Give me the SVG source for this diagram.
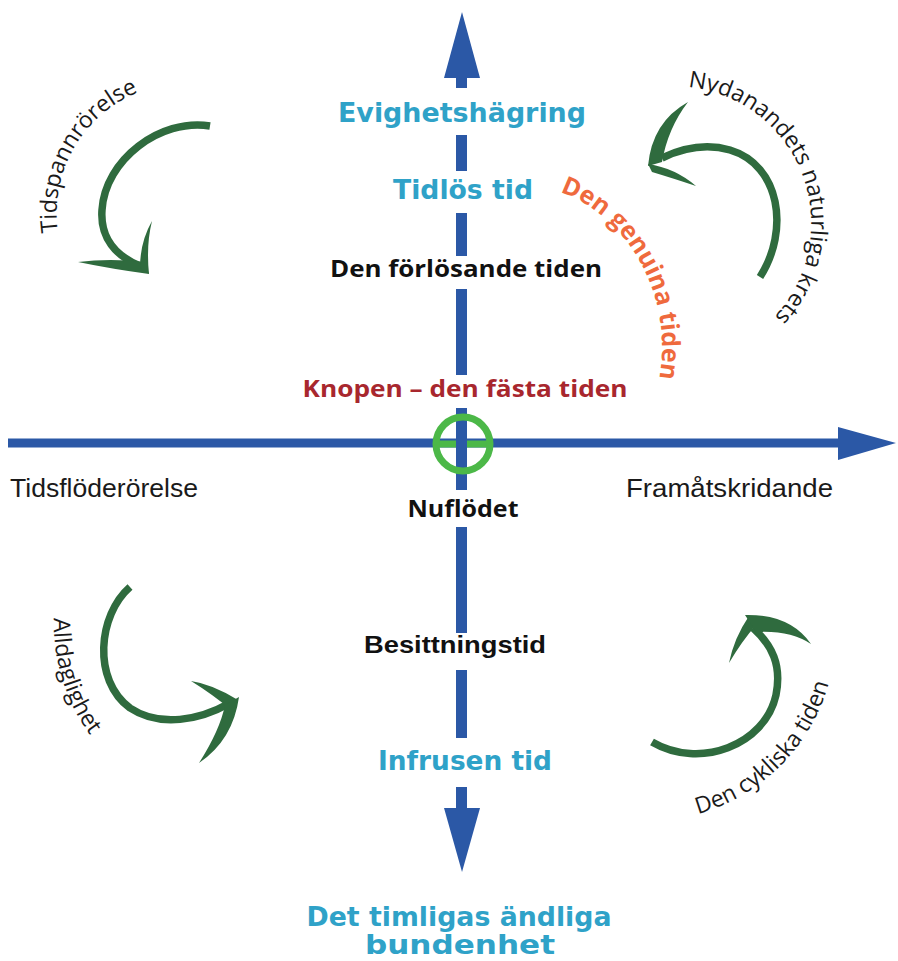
<svg xmlns="http://www.w3.org/2000/svg" width="898" height="961" viewBox="0 0 898 961">
<style>
.axis{fill:#2b58a6}
.garc{fill:none;stroke:#2f6b3e;stroke-width:7.5}
.ghead{fill:#2f6b3e}
.teal{font-family:"DejaVu Sans",Verdana,sans-serif;font-weight:bold;font-size:26px;fill:#2fa2c8;text-anchor:middle}
.blk{font-family:"Open Sans","Liberation Sans",sans-serif;font-weight:bold;font-size:24px;fill:#111;text-anchor:middle}
.blk2{font-family:"Liberation Sans",Arial,sans-serif;font-weight:bold;font-size:24px;fill:#111;text-anchor:middle}
.red{font-family:"Open Sans","Liberation Sans",sans-serif;font-weight:bold;font-size:24px;fill:#a8272e;text-anchor:middle}
.side{font-family:"Liberation Sans",Arial,sans-serif;font-size:25px;fill:#1a1a1a}
.curv{font-family:"Open Sans","Noto Sans",sans-serif;font-size:23px;fill:#1a1a1a}
.orange{font-family:"Open Sans","Noto Sans",sans-serif;font-weight:bold;font-size:25px;fill:#ef6a3d}
</style>
<defs>
<path id="pTL" d="M58,232 A130,130 0 0 1 170,84"/>
<path id="pTR" d="M688,87 A137,137 0 0 1 766,325"/>
<path id="pBL" d="M54,618 A189,189 0 0 0 104,752"/>
<path id="pBR" d="M698,814 A189,189 0 0 0 832,670"/>
<path id="pGen" d="M560,192 C620,212 680,290 657,390"/>
</defs>

<g id="connectors">
  <rect class="axis" x="8" y="438.5" width="834" height="9"/>
  <polygon class="axis" points="838,427 896,443 838,460"/>
  <polygon class="axis" points="462,12 480,78 444,78"/>
  <rect class="axis" x="456" y="76" width="11" height="12"/>
  <rect class="axis" x="456" y="135" width="11" height="36"/>
  <rect class="axis" x="456" y="213" width="11" height="43"/>
  <rect class="axis" x="456" y="289" width="11" height="86"/>
  <rect class="axis" x="456" y="527" width="11" height="106"/>
  <rect class="axis" x="456" y="670" width="11" height="68"/>
  <rect class="axis" x="456" y="787" width="11" height="23"/>
  <polygon class="axis" points="444,808 480,808 462,872"/>
</g>

<g id="knot">
  <line x1="436" y1="444" x2="490" y2="444" stroke="#4cb848" stroke-width="7"/>
  <rect class="axis" x="456" y="408" width="11" height="82"/>
  <circle cx="463" cy="444" r="27" fill="none" stroke="#4cb848" stroke-width="7"/>
</g>

<g id="arrow-tl">
  <path class="garc" d="M210,126 C160,118 105,160 102,210 C100,238 116,256 140,266"/>
  <path class="ghead" d="M78,262 Q112,269 149,274 L145,262 Q110,258 78,262 Z"/>
  <path class="ghead" d="M152,221 Q140,242 140,268 L149,274 Q146,245 152,221 Z"/>
  <text class="curv"><textPath href="#pTL">Tidspannrörelse</textPath></text>
</g>

<g id="arrow-tr">
  <path class="garc" d="M760,277 C790,230 780,165 730,150 C705,143 683,148 662,158"/>
  <path class="ghead" d="M648,166 Q652,122 688,102 Q668,128 662,162 Z"/>
  <path class="ghead" d="M648,164 Q675,168 696,186 Q672,178 652,172 Z"/>
  <text class="curv" font-size="22.5"><textPath href="#pTR">Nydanandets naturliga krets</textPath></text>
</g>

<g id="arrow-bl">
  <path class="garc" d="M130,587 C98,615 92,680 130,708 C160,728 200,720 230,703"/>
  <path class="ghead" d="M238,700 Q212,684 191,681 Q212,694 230,709 Z"/>
  <path class="ghead" d="M239,697 Q233,740 199,763 Q220,730 225,705 Z"/>
  <text class="curv"><textPath href="#pBL">Alldaglighet</textPath></text>
</g>

<g id="arrow-br">
  <path class="garc" d="M652,742 C700,770 765,745 776,695 C782,665 772,645 753,628"/>
  <path class="ghead" d="M749,616 Q734,638 729,663 Q742,641 756,625 Z"/>
  <path class="ghead" d="M745,615 Q790,614 811,644 Q790,630 756,632 Z"/>
  <text class="curv"><textPath href="#pBR">Den cykliska tiden</textPath></text>
</g>

<g id="genuina">
  <text class="orange"><textPath href="#pGen">Den genuina tiden</textPath></text>
</g>

<g id="n-evighet"><text class="teal" x="462" y="122" textLength="248" lengthAdjust="spacingAndGlyphs">Evighetshägring</text></g>
<g id="n-tidlos"><text class="teal" x="463" y="199" textLength="140" lengthAdjust="spacingAndGlyphs">Tidlös tid</text></g>
<g id="n-forlosande"><text class="blk" x="466" y="277" textLength="272" lengthAdjust="spacingAndGlyphs">Den förlösande tiden</text></g>
<g id="n-knopen"><text class="red" x="465" y="397" textLength="325" lengthAdjust="spacingAndGlyphs">Knopen – den fästa tiden</text></g>
<g id="n-tidsflode"><text class="side" x="10" y="497" textLength="188" lengthAdjust="spacingAndGlyphs">Tidsflöderörelse</text></g>
<g id="n-framat"><text class="side" x="626" y="497" textLength="207" lengthAdjust="spacingAndGlyphs">Framåtskridande</text></g>
<g id="n-nuflodet"><text class="blk" x="463" y="517" textLength="111" lengthAdjust="spacingAndGlyphs">Nuflödet</text></g>
<g id="n-besittning"><text class="blk2" x="455" y="653" textLength="182" lengthAdjust="spacingAndGlyphs">Besittningstid</text></g>
<g id="n-infrusen"><text class="teal" x="465" y="770" textLength="174" lengthAdjust="spacingAndGlyphs">Infrusen tid</text></g>
<g id="n-timliga">
  <text class="teal" x="459" y="926" textLength="305" lengthAdjust="spacingAndGlyphs">Det timligas ändliga</text>
  <text class="teal" x="460" y="954" textLength="190" lengthAdjust="spacingAndGlyphs">bundenhet</text>
</g>
</svg>
